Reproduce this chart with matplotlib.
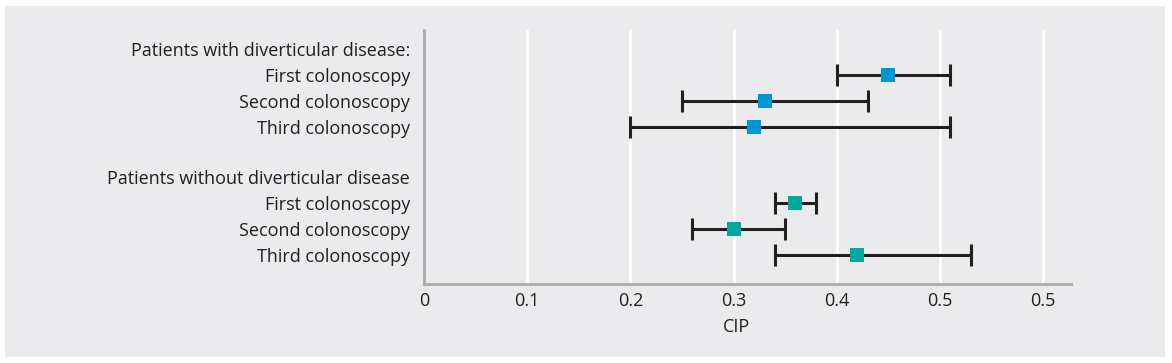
import matplotlib.pyplot as plt
from matplotlib.patches import Rectangle

groups = ['Patients with diverticular disease:', 'Patients without diverticular disease']
visits = ['First colonoscopy', 'Second colonoscopy', 'Third colonoscopy']
cip_with = [0.45, 0.33, 0.32]
low_with = [0.40, 0.25, 0.20]
high_with = [0.51, 0.43, 0.51]
cip_without = [0.36, 0.30, 0.42]
low_without = [0.34, 0.26, 0.34]
high_without = [0.38, 0.35, 0.53]
xticks = [0, 0.1, 0.2, 0.3, 0.4, 0.5, 0.6]
xtick_labels = ['0', '0.1', '0.2', '0.3', '0.4', '0.5', '0.5']

plt.rcParams['font.family'] = ['Open Sans', 'DejaVu Sans']
plt.rcParams['font.size'] = 13
bg = '#ebebed'

fig = plt.figure(figsize=(11.72, 3.63), dpi=100, facecolor='white')
fig.patches.append(Rectangle((5 / 1172, 6 / 363), 1160 / 1172, 351 / 363,
                             transform=fig.transFigure, facecolor=bg, edgecolor='none', zorder=-1))
ax = fig.add_axes([424 / 1172, 1 - 284 / 363, (1071 - 424) / 1172, (284 - 30) / 363])
ax.set_facecolor(bg)

# row positions (rows of 26 px)
head_y = [0, 4.92]
rows_with = [1, 2, 3]
rows_without = [5.92, 6.92, 7.92]

for ys, c, lo, hi, col in [(rows_with, cip_with, low_with, high_with, '#0096d6'),
                           (rows_without, cip_without, low_without, high_without, '#00a99d')]:
    err = [[v - l for v, l in zip(c, lo)], [h - v for v, h in zip(c, hi)]]
    ax.errorbar(c, ys, xerr=err, fmt='none', ecolor='#231f20', elinewidth=2.2,
                capsize=8, capthick=2.2, zorder=3)
    ax.scatter(c, ys, marker='s', s=110, color=col, zorder=4, linewidths=0)

ax.set_yticks([head_y[0]] + rows_with + [head_y[1]] + rows_without)
ax.set_yticklabels([groups[0]] + visits + [groups[1]] + visits, color='#231f20')
ax.set_ylim(9.04, -0.73)
ax.set_xlim(0, 0.627)
ax.set_xticks(xticks)
ax.set_xticklabels(xtick_labels, color='#231f20')
ax.tick_params(length=0, pad=10)
ax.tick_params(axis='x', pad=6)
ax.grid(axis='x', color='white', linewidth=2)
ax.set_axisbelow(True)
for s in ['top', 'right']:
    ax.spines[s].set_visible(False)
for s in ['left', 'bottom']:
    ax.spines[s].set_color('#aaaaaa')
    ax.spines[s].set_linewidth(2)
ax.set_xlabel('CIP', color='#231f20')
ax.xaxis.set_label_coords(0.3 / 0.627 + 0.004, -0.135)

fig.savefig('out.png', dpi=100, facecolor='white')
